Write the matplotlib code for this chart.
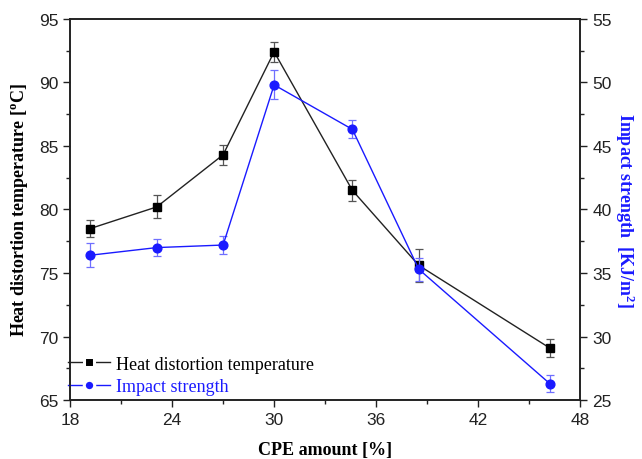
import matplotlib
matplotlib.use("Agg")
import matplotlib.pyplot as plt
from matplotlib.ticker import MultipleLocator
from matplotlib.lines import Line2D

cpe = [19.2, 23.1, 27.0, 30.0, 34.6, 38.5, 46.2]
hdt = [78.5, 80.2, 84.3, 92.4, 81.5, 75.6, 69.1]
hdt_err = [0.7, 0.9, 0.8, 0.8, 0.8, 1.3, 0.7]
impact = [36.4, 37.0, 37.2, 49.8, 46.3, 35.3, 26.3]
impact_err = [0.95, 0.65, 0.7, 1.15, 0.7, 0.9, 0.7]

sans = "Liberation Sans"
serif = "Liberation Serif"
blue = "#1a1aff"

fig = plt.figure(figsize=(6.42, 4.6), dpi=100)
ax = fig.add_axes([0.109, 0.128, 0.795, 0.829])
ax2 = ax.twinx()

ax.errorbar(cpe, hdt, yerr=hdt_err, color="#222222", ecolor="#555555",
            elinewidth=0.9, capsize=3, capthick=0.9, lw=1.0,
            marker="s", ms=5.2, mfc="black", mec="black")
ax2.errorbar(cpe, impact, yerr=impact_err, color=blue, ecolor="#6f6fff",
             elinewidth=0.9, capsize=3, capthick=0.9, lw=1.0,
             marker="o", ms=6.3, mfc=blue, mec=blue)

ax.set_xlim(18, 48)
ax.set_ylim(65, 95)
ax2.set_ylim(25, 55)
ax.xaxis.set_major_locator(MultipleLocator(6))
ax.xaxis.set_minor_locator(MultipleLocator(3))
ax.yaxis.set_major_locator(MultipleLocator(5))
ax.yaxis.set_minor_locator(MultipleLocator(2.5))
ax2.yaxis.set_major_locator(MultipleLocator(5))
ax2.yaxis.set_minor_locator(MultipleLocator(2.5))

for a in (ax, ax2):
    for s in a.spines.values():
        s.set_linewidth(1.2)
        s.set_color("#222222")
    a.tick_params(which="major", direction="out", length=5, width=1.0,
                  labelsize=12.5, colors="#222222")
    a.tick_params(which="minor", direction="out", length=3, width=1.0,
                  colors="#222222")
    for lab in a.get_xticklabels() + a.get_yticklabels():
        lab.set_fontfamily(sans)

ax.set_xlabel("CPE amount [%]", fontfamily=serif, fontweight="bold",
              fontsize=13, labelpad=10)
ax.set_ylabel(r"Heat distortion temperature [$\mathregular{^{o}}$C]",
              fontfamily=serif, fontweight="bold", fontsize=13, labelpad=6)
ax2.set_ylabel(r"Impact strength  [KJ/m$\mathregular{^{2}}$]",
               fontfamily=serif, fontweight="bold", fontsize=13,
               color=blue, rotation=-90, labelpad=18)

# legend keys: line broken around a small marker
h1 = Line2D([], [], color="#222222", lw=1.0, marker="s", ms=6.5,
            mfc="black", mec="white", mew=2.2)
h2 = Line2D([], [], color=blue, lw=1.0, marker="o", ms=7.5,
            mfc=blue, mec="white", mew=2.2)
leg = ax.legend([h1, h2], ["Heat distortion temperature", "Impact strength"],
                loc="lower left", bbox_to_anchor=(-0.028, -0.02), frameon=False,
                prop={"family": serif, "size": 13}, handlelength=2.3,
                handletextpad=0.35, labelspacing=0.3, borderaxespad=0.3)
leg.get_texts()[1].set_color(blue)

fig.savefig("out.png", dpi=100)
